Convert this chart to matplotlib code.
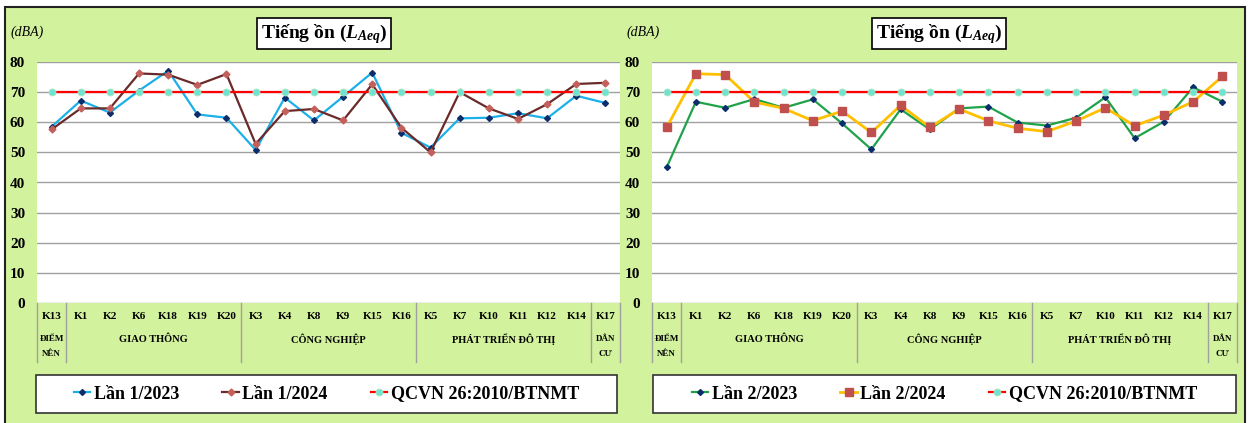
import numpy as np
import matplotlib.pyplot as plt
from matplotlib.patches import Rectangle
from matplotlib.lines import Line2D
from matplotlib.transforms import blended_transform_factory

plt.rcParams['font.family'] = ['Liberation Serif', 'DejaVu Serif']
plt.rcParams['mathtext.fontset'] = 'custom'
plt.rcParams['mathtext.it'] = 'Liberation Serif:italic:bold'
plt.rcParams['mathtext.rm'] = 'Liberation Serif:bold'

# diem quan trac
categories = ['K13', 'K1', 'K2', 'K6', 'K18', 'K19', 'K20', 'K3', 'K4', 'K8',
              'K9', 'K15', 'K16', 'K5', 'K7', 'K10', 'K11', 'K12', 'K14', 'K17']
group_names = ['ĐIỂM\nNÊN', 'GIAO THÔNG', 'CÔNG NGHIỆP', 'PHÁT TRIỂN ĐÔ THỊ', 'DÂN\nCƯ']
group_start = [0, 1, 7, 13, 19]
group_end = [0, 6, 12, 18, 19]

lan1_2023 = [58.5, 67.2, 63.2, 70.5, 77.1, 62.6, 61.5, 50.8, 68.2, 60.6,
             68.5, 76.5, 56.5, 51.6, 61.3, 61.5, 63.0, 61.3, 68.8, 66.4]
lan1_2024 = [57.6, 64.6, 64.6, 76.2, 75.8, 72.4, 76.0, 52.8, 63.7, 64.4,
             60.6, 72.6, 58.2, 50.0, 70.0, 64.6, 61.1, 66.0, 72.7, 73.1]
lan2_2023 = [45.0, 66.8, 64.8, 67.7, 64.8, 67.6, 59.6, 51.0, 64.3, 57.6,
             64.6, 65.2, 59.9, 58.9, 61.5, 68.3, 54.7, 60.2, 71.6, 66.8]
lan2_2024 = [58.3, 76.1, 75.8, 66.7, 64.6, 60.5, 63.7, 56.6, 65.6, 58.3,
             64.4, 60.5, 58.0, 56.9, 60.4, 64.8, 58.8, 62.4, 66.8, 75.2]
qcvn = [70] * len(categories)

W, H = 1253, 423


def fx(px):
    return px / W


def fy(py):
    return 1 - py / H


fig = plt.figure(figsize=(W / 100, H / 100), dpi=100)

bg = '#D3F29D'
fig.patches.append(Rectangle((fx(5), fy(430)), fx(1245) - fx(5), fy(7) - fy(430),
                             transform=fig.transFigure, facecolor=bg,
                             edgecolor='#222222', lw=1.5, zorder=-5))

qcvn_style = dict(color='#FF0000', lw=1.6, marker='o', ms=5,
                  mfc='#6FE3D2', mec='#A8E8C0', mew=0.6)
s1a = dict(color='#1DAFE8', lw=1.6, marker='D', ms=3, mfc='#0B2D6B', mec='#0B2D6B')
s1b = dict(color='#6A2A2A', lw=1.6, marker='D', ms=3.5, mfc='#C4605C', mec='#C4605C')
s2a = dict(color='#1FA24A', lw=1.6, marker='D', ms=3, mfc='#0B2D6B', mec='#0B2D6B')
s2b = dict(color='#FFC000', lw=2.0, marker='s', ms=5.5, mfc='#C0504D', mec='#C0504D')

panels = [
    dict(left=37, right=620, title_box=(257, 391), series=[(lan1_2023, s1a, 'Lần 1/2023'),
                                                           (lan1_2024, s1b, 'Lần 1/2024')],
         dba_x=27, leg_box=(36, 617)),
    dict(left=652, right=1237, title_box=(872, 1006), series=[(lan2_2023, s2a, 'Lần 2/2023'),
                                                             (lan2_2024, s2b, 'Lần 2/2024')],
         dba_x=643, leg_box=(653, 1236)),
]

x = np.arange(len(categories))
top, bottom = 62, 303

for p in panels:
    ax = fig.add_axes([fx(p['left']), fy(bottom), fx(p['right']) - fx(p['left']),
                       fy(top) - fy(bottom)])
    ax.set_facecolor('white')
    for s in ax.spines.values():
        s.set_visible(False)
    ax.set_xlim(-0.5, len(categories) - 0.5)
    ax.set_ylim(0, 80)
    ax.set_yticks(range(0, 90, 10))
    ax.set_yticklabels([str(v) for v in range(0, 90, 10)], fontsize=11, fontweight='bold')
    ax.tick_params(axis='y', length=0, pad=8.5)
    ax.set_xticks([])
    ax.yaxis.grid(True, color='#A0A0A0', lw=1)
    ax.set_axisbelow(True)

    handles = []
    for vals, st, lab in p['series']:
        ax.plot(x, vals, **st, zorder=3)
        handles.append(Line2D([], [], label=lab, **st))
    ax.plot(x, qcvn, **qcvn_style, zorder=4)
    handles.append(Line2D([], [], label='QCVN 26:2010/BTNMT', **qcvn_style))

    # nhan truc x theo nhom
    tr = blended_transform_factory(ax.transData, ax.transAxes)
    for i, c in enumerate(categories):
        ax.text(i, -0.058, c, transform=tr, ha='center', va='center',
                fontsize=8, fontweight='bold')
    for name, a, b in zip(group_names, group_start, group_end):
        lines = name.split('\n')
        fs = 7.5 if len(lines) == 1 else 6.5
        for k, line in enumerate(lines):
            ax.text((a + b) / 2, -0.149 - 0.064 * k, line, transform=tr,
                    ha='center', va='center', fontsize=fs, fontweight='bold')
    for xb in [-0.5, 0.5, 6.5, 12.5, 18.5, 19.5]:
        ax.plot([xb, xb], [0, -0.245], transform=tr, color='#A0A0A0', lw=1,
                clip_on=False)

    # tieu de
    t0, t1 = p['title_box']
    fig.patches.append(Rectangle((fx(t0), fy(49)), fx(t1) - fx(t0), fy(18) - fy(49),
                                 transform=fig.transFigure, facecolor='white',
                                 edgecolor='black', lw=1.2, zorder=2))
    fig.text(fx((t0 + t1) / 2), fy(34), r'Tiếng ồn ($L_{Aeq}$)', ha='center',
             va='center', fontsize=14, fontweight='bold', zorder=3)

    fig.text(fx(p['dba_x']), fy(32), '(dBA)', ha='center', va='center',
             fontsize=10, fontstyle='italic')

    # chu giai
    l0, l1 = p['leg_box']
    fig.patches.append(Rectangle((fx(l0), fy(413)), fx(l1) - fx(l0), fy(375) - fy(413),
                                 transform=fig.transFigure, facecolor='white',
                                 edgecolor='#333333', lw=1.2, zorder=2))
    leg = fig.legend(handles=handles, loc='center', ncol=3, frameon=False,
                     bbox_to_anchor=(fx((l0 + l1) / 2), fy(394)),
                     prop=dict(family='Liberation Serif', weight='bold', size=13),
                     handlelength=0.9, handletextpad=0.2, columnspacing=2.4)
    leg.set_zorder(5)

fig.savefig('out.png', dpi=100)
